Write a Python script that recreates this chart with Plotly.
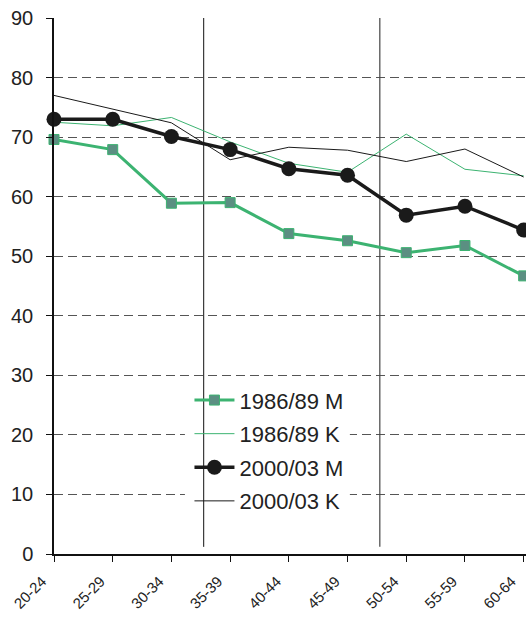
import plotly.graph_objects as go

categories = ["20-24", "25-29", "30-34", "35-39", "40-44", "45-49", "50-54", "55-59", "60-64"]
m_1986 = [69.6, 67.9, 58.9, 59.0, 53.8, 52.6, 50.6, 51.8, 46.7]
k_1986 = [72.5, 71.9, 73.3, 69.2, 65.6, 64.1, 70.5, 64.6, 63.5]
m_2000 = [73.0, 73.0, 70.1, 67.9, 64.7, 63.6, 56.9, 58.4, 54.4]
k_2000 = [77.0, 74.7, 72.4, 66.2, 68.3, 67.8, 65.9, 68.0, 63.3]
names = ["1986/89 M", "1986/89 K", "2000/03 M", "2000/03 K"]
y_ticks = [0, 10, 20, 30, 40, 50, 60, 70, 80, 90]

GREEN = "#3cb371"
BLACK = "#1a1a1a"
xs = list(range(len(categories)))

fig = go.Figure()
fig.add_trace(go.Scatter(x=xs, y=m_1986, name=names[0], legendgroup="a", mode="lines+markers",
                         line=dict(color=GREEN, width=3),
                         marker=dict(symbol="square", size=10, color="#5b8f82",
                                     line=dict(color=GREEN, width=1)),
                         cliponaxis=False))
fig.add_trace(go.Scatter(x=xs, y=k_1986, name=names[1], legendgroup="b", mode="lines",
                         line=dict(color=GREEN, width=1), cliponaxis=False))
fig.add_trace(go.Scatter(x=xs, y=m_2000, name=names[2], legendgroup="c", mode="lines+markers",
                         line=dict(color=BLACK, width=3.5),
                         marker=dict(symbol="circle", size=15, color=BLACK),
                         cliponaxis=False))
fig.add_trace(go.Scatter(x=xs, y=k_2000, name=names[3], legendgroup="d", mode="lines",
                         line=dict(color=BLACK, width=1), cliponaxis=False))

# white patch behind legend, hiding gridlines
fig.add_shape(type="rect", xref="x", yref="y", x0=2.23, x1=5.04, y0=7.4, y1=28.4,
              fillcolor="white", line=dict(width=0), layer="between")
# vertical divider lines
fig.add_shape(type="line", xref="x", yref="y", x0=2.55, x1=2.55, y0=1.2, y1=90.5,
              line=dict(color="#111111", width=1), layer="between")
fig.add_shape(type="line", xref="x", yref="y", x0=5.55, x1=5.55, y0=1.2, y1=90.5,
              line=dict(color="#444444", width=1.2), layer="between")

fig.update_layout(
    width=526, height=618,
    margin=dict(l=54, r=0, t=18, b=64),
    plot_bgcolor="white", paper_bgcolor="white",
    font=dict(family="Liberation Sans, Arial, sans-serif", color="#222222"),
    showlegend=True,
    legend=dict(x=0.287, y=0.326, xanchor="left", yanchor="top", traceorder="grouped",
                bgcolor="rgba(0,0,0,0)", font=dict(size=22, color="#222222"),
                itemwidth=40, tracegroupgap=2),
    xaxis=dict(range=[0, 8.04], tickmode="array", tickvals=xs, ticktext=categories,
               tickangle=-45, tickfont=dict(size=15), showgrid=False, automargin=False,
               ticklabeloverflow="allow", ticklabelstandoff=5, ticklabelshift=-12,
               showline=True, linecolor="#111111", linewidth=1.5,
               ticks="outside", ticklen=6, tickcolor="#111111", zeroline=False),
    yaxis=dict(range=[0, 90], tickvals=y_ticks, tickfont=dict(size=20), automargin=False,
               showgrid=True, gridcolor="#555555", griddash="9px,5px", gridwidth=1,
               showline=True, linecolor="#111111", linewidth=1.5, ticklabelstandoff=9,
               ticks="outside", ticklen=6, tickcolor="#111111", zeroline=False),
)

fig.write_html("out.html", config={"displayModeBar": False},
               post_script="document.body.style.margin='0';")
